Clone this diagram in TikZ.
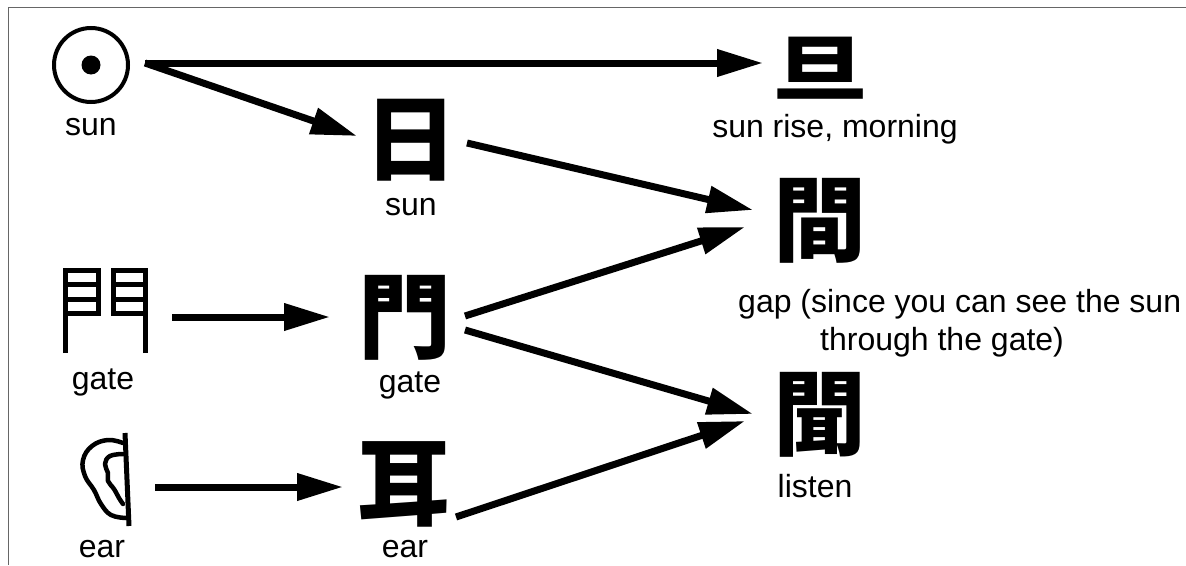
\documentclass[tikz,border=0pt]{standalone}
\usepackage{fontspec}
\setmainfont{Liberation Sans}
\newfontfamily\cjk{Noto Sans CJK JP}
\usetikzlibrary{arrows.meta}
\begin{document}
\begin{tikzpicture}[x=1pt,y=-1pt,
  kanji/.style={font=\cjk\bfseries\fontsize{93}{93}\selectfont, inner sep=0pt},
  lbl/.style={font=\fontsize{32}{38}\selectfont, anchor=base, inner sep=0pt},
  arr/.style={line width=7pt, -{Triangle[length=46pt,width=26pt]}},
  pict/.style={line width=5pt, line join=miter},
  earline/.style={line width=4.5pt, line cap=round, line join=round},
  frameline/.style={line width=1.5pt, draw=black!60}]
\useasboundingbox (0,0) rectangle (1186,565);
\draw[frameline] (8.5,565) -- (8.5,7.5) -- (1186,7.5);

% pictographs
\node[circle, draw, line width=4pt, minimum size=74pt, inner sep=0pt] (sunpic) at (91,65) {};
\node[circle, fill, minimum size=19pt, inner sep=0pt] (sundot) at (sunpic.center) {};
\node[lbl] (sunlbl) at (91,135) {sun};

\node[minimum width=86pt, minimum height=88pt, inner sep=0pt] (gatepic) at (105,311) {};
\draw[pict] (65,353) -- (65,270) -- (98,270) -- (98,313) -- (65,313);
\draw[pict] (65,284) -- (98,284) (65,299) -- (98,299);
\draw[pict] (145,353) -- (145,270) -- (113,270) -- (113,313) -- (145,313);
\draw[pict] (113,284) -- (145,284) (113,299) -- (145,299);
\node[lbl] (gatelbl) at (103,389) {gate};

\node[minimum width=50pt, minimum height=95pt, inner sep=0pt] (earpic) at (105,480) {};
\draw[line width=5pt] (125,433) -- (129,526);
\draw[earline] plot[smooth, tension=0.7] coordinates {(123,443) (108,440) (92,446) (83,460) (85,476) (94,490) (101,504) (111,515) (126,518)};
\draw[earline] plot[smooth, tension=0.7] coordinates {(123,454) (110,456) (105,464) (108,473) (108,481) (114,489) (119,498) (123,504)};
\node[lbl] (earlbl) at (102,557) {ear};

% kanji
\node[kanji] (dan) at (820,68) {\scalebox{1.03}[0.78]{旦}};
\node[lbl] (danlbl) at (835,137) {sun rise, morning};
\node[kanji] (ri) at (411,140) {日};
\node[lbl] (rilbl) at (411,215) {sun};
\node[kanji] (men) at (405,318) {門};
\node[lbl] (menlbl) at (410,392) {gate};
\node[kanji] (mimi) at (404,484) {耳};
\node[lbl] (mimilbl) at (405,557) {ear};
\node[kanji] (jian) at (820,221) {間};
\node[lbl, anchor=base west, align=left] (jianlbl) at (738,350) {gap (since you can see the sun\\\hspace*{82pt}through the gate)};
\node[kanji] (wen) at (820,415) {聞};
\node[lbl] (wenlbl) at (815,497) {listen};

% arrows
\draw[arr] ([shift={(54,-2)}]sunpic.center) -- ([shift={(-57,-5)}]dan.center);
\draw[arr] ([shift={(54,-2)}]sunpic.center) -- ([shift={(-54,-4)}]ri.center);
\draw[arr] ([shift={(56,3)}]ri.center) -- ([shift={(-67,-11)}]jian.center);
\draw[arr] ([shift={(60,-2)}]men.center) -- ([shift={(-75,6)}]jian.center);
\draw[arr] ([shift={(60,12)}]men.center) -- ([shift={(-67,-1)}]wen.center);
\draw[arr] ([shift={(52,33)}]mimi.center) -- ([shift={(-75,6)}]wen.center);
\draw[arr] ([shift={(67,6)}]gatepic.center) -- ([shift={(-75,-1)}]men.center);
\draw[arr] ([shift={(50,7)}]earpic.center) -- ([shift={(-61,3)}]mimi.center);
\end{tikzpicture}
\end{document}
